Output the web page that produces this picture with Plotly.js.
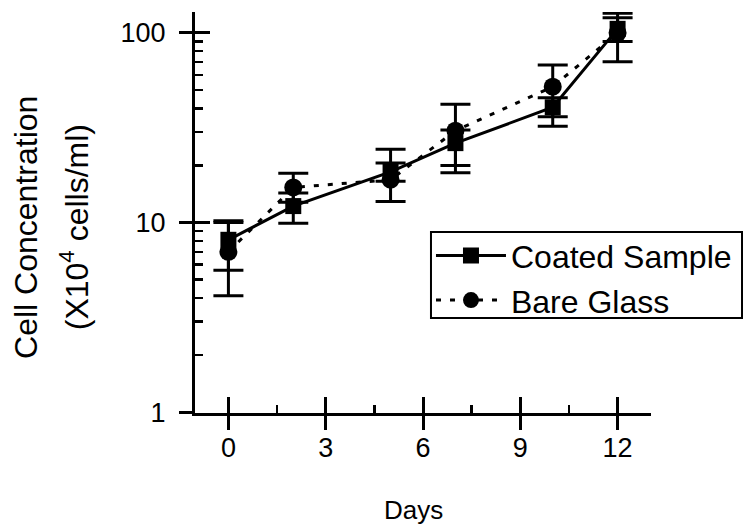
<!DOCTYPE html>
<html>
<head>
<meta charset="utf-8">
<script src="https://cdn.plot.ly/plotly-3.0.1.min.js"></script>
<style>html,body{margin:0;padding:0;background:#fff;}#chart{width:743px;height:527px;}</style>
</head>
<body>
<div id="chart"></div>
<script>
// Data
const days = [0, 2, 5, 7, 10, 12];
const coated = [8.1, 12.2, 18.5, 26.2, 40.5, 105];
const coatedErrPlus = [2.1, 2.1, 2.1, 4.5, 5.0, 22];
const coatedErrMinus = [2.5, 2.3, 2.0, 7.9, 8.3, 34.5];
const bare = [7.0, 15.3, 16.8, 30.5, 52, 100];
const bareErrPlus = [3.0, 2.9, 7.5, 11.5, 15.7, 20];
const bareErrMinus = [2.9, 2.5, 3.9, 10.5, 15.9, 10];
const xTickVals = [0, 3, 6, 9, 12];
const yTickVals = [1, 10, 100];
const seriesNames = ['Coated Sample', 'Bare Glass'];

const FONT = 'Liberation Sans, Arial, sans-serif';

const traces = [
  {
    x: days, y: coated, name: seriesNames[0], type: 'scatter', mode: 'lines+markers',
    line: {color: '#000', width: 3},
    marker: {symbol: 'square', size: 16, color: '#000'},
    error_y: {type: 'data', symmetric: false, array: coatedErrPlus, arrayminus: coatedErrMinus,
              color: '#000', thickness: 3, width: 15}
  },
  {
    x: days, y: bare, name: seriesNames[1], type: 'scatter', mode: 'lines+markers',
    line: {color: '#000', width: 3, dash: '5px,9px'},
    marker: {symbol: 'circle', size: 18, color: '#000'},
    error_y: {type: 'data', symmetric: false, array: bareErrPlus, arrayminus: bareErrMinus,
              color: '#000', thickness: 3, width: 15}
  },
  // empty helper traces so that the overlay tick axes get drawn
  {x: [], y: [], xaxis: 'x2', yaxis: 'y', showlegend: false, hoverinfo: 'skip', type: 'scatter', mode: 'markers'},
  {x: [], y: [], xaxis: 'x', yaxis: 'y2', showlegend: false, hoverinfo: 'skip', type: 'scatter', mode: 'markers'},
  {x: [], y: [], xaxis: 'x', yaxis: 'y3', showlegend: false, hoverinfo: 'skip', type: 'scatter', mode: 'markers'}
];

const xRange = [-1.03, 13.03];
const yRange = [-0.005, 2.11];

const layout = {
  width: 743, height: 527,
  margin: {l: 195, r: 92, t: 12, b: 114, autoexpand: false},
  paper_bgcolor: '#fff', plot_bgcolor: '#fff',
  font: {family: FONT, color: '#000', size: 27},
  showlegend: true,
  legend: {
    x: 0.5175, y: 0.461, xanchor: 'left', yanchor: 'top',
    borderwidth: 0, bgcolor: 'rgba(0,0,0,0)',
    font: {family: FONT, size: 32, color: '#000'},
    itemwidth: 70, tracegroupgap: 0
  },
  shapes: [
    {type: 'rect', xref: 'paper', yref: 'paper', x0: 0.5175, x1: 1.1996, y0: 0.2369, y1: 0.4514,
     line: {color: '#000', width: 2}, fillcolor: 'rgba(0,0,0,0)', layer: 'above'}
  ],
  xaxis: {
    range: xRange, tickvals: xTickVals, ticktext: xTickVals.map(String),
    showline: true, linecolor: '#000', linewidth: 3, mirror: false,
    ticks: 'inside', ticklen: 16, tickwidth: 3, tickcolor: '#000',
    showgrid: false, zeroline: false, ticklabelstandoff: 9,
    tickfont: {family: FONT, size: 27, color: '#000'},
    minor: {dtick: 1.5, tick0: 0, ticks: 'inside', ticklen: 8, tickwidth: 2.5, tickcolor: '#000', showgrid: false}
  },
  xaxis2: {
    range: xRange, overlaying: 'x', anchor: 'y', side: 'bottom',
    tickvals: xTickVals, showticklabels: false,
    ticks: 'outside', ticklen: 16, tickwidth: 3, tickcolor: '#000',
    showline: false, showgrid: false, zeroline: false
  },
  yaxis: {
    type: 'log', range: yRange, tickvals: yTickVals, ticktext: yTickVals.map(String),
    showline: true, linecolor: '#000', linewidth: 3,
    ticks: 'inside', ticklen: 15, tickwidth: 3, tickcolor: '#000',
    showgrid: false, zeroline: false, ticklabelstandoff: 21,
    tickfont: {family: FONT, size: 27, color: '#000'}
  },
  yaxis2: {
    type: 'log', range: yRange, overlaying: 'y', anchor: 'x', side: 'left',
    tickvals: yTickVals, showticklabels: false,
    ticks: 'outside', ticklen: 15, tickwidth: 3, tickcolor: '#000',
    showline: false, showgrid: false, zeroline: false
  },
  yaxis3: {
    type: 'log', range: yRange, overlaying: 'y', anchor: 'x', side: 'left',
    dtick: 'D1', showticklabels: false,
    ticks: 'inside', ticklen: 8, tickwidth: 2.5, tickcolor: '#000',
    showline: false, showgrid: false, zeroline: false
  },
  annotations: [
    {text: 'Cell Concentration', xref: 'paper', yref: 'paper', x: -0.372, y: 0.4625,
     xanchor: 'center', yanchor: 'middle', textangle: -90, showarrow: false,
     font: {family: FONT, size: 32, color: '#000'}},
    {text: '(X10<sup>4</sup> cells/ml)', xref: 'paper', yref: 'paper', x: -0.266, y: 0.4625,
     xanchor: 'center', yanchor: 'middle', textangle: -90, showarrow: false,
     font: {family: FONT, size: 32, color: '#000'}},
    {text: 'Days', xref: 'paper', yref: 'paper', x: 0.48, y: -0.243,
     xanchor: 'center', yanchor: 'middle', showarrow: false,
     font: {family: FONT, size: 26, color: '#000'}}
  ]
};

Plotly.newPlot('chart', traces, layout, {staticPlot: true, displayModeBar: false});
</script>
</body>
</html>
